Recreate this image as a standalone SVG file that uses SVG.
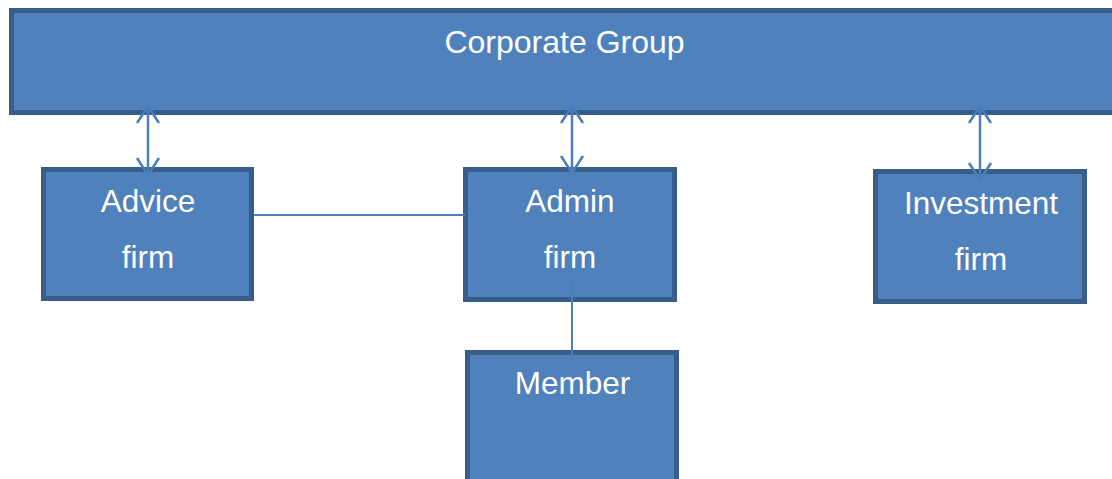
<svg xmlns="http://www.w3.org/2000/svg" width="1112" height="479" viewBox="0 0 1112 479">
  <style>
    .box { fill: #4F81BD; stroke: #385D8A; stroke-width: 5; }
    .label { fill: #FFFFFF; font-family: "Liberation Sans", Arial, sans-serif; font-size: 31.5px; text-anchor: middle; }
    .title { font-size: 32px; }
    .link { stroke: #4A7EBB; stroke-width: 2; fill: none; }
    .arrow { stroke: #4A7EBB; stroke-width: 2.5; fill: none; marker-start: url(#open); marker-end: url(#open); }
  </style>
  <defs>
    <marker id="open" markerUnits="userSpaceOnUse" markerWidth="24" markerHeight="26" viewBox="0 0 24 26" refX="19" refY="13" orient="auto-start-reverse" overflow="visible">
      <path d="M2,2 L19,13 L2,24" fill="none" stroke="#4A7EBB" stroke-width="2.5"/>
    </marker>
  </defs>

  <rect width="1112" height="479" fill="#FFFFFF"/>

  <g id="corporate-group">
    <rect class="box" x="11.5" y="10.5" width="1120" height="102"/>
    <text class="label title" x="564.5" y="53">Corporate Group</text>
  </g>

  <g id="advice-firm">
    <rect class="box" x="43.5" y="169.5" width="208" height="129"/>
    <text class="label" x="148" y="212">Advice</text>
    <text class="label" x="148" y="268">firm</text>
  </g>

  <g id="admin-firm">
    <rect class="box" x="465.5" y="169.5" width="209" height="130"/>
    <text class="label" x="570" y="212">Admin</text>
    <text class="label" x="570" y="268">firm</text>
  </g>

  <g id="investment-firm">
    <rect class="box" x="875.5" y="171.5" width="209" height="130"/>
    <text class="label" x="981" y="214">Investment</text>
    <text class="label" x="981" y="270">firm</text>
  </g>

  <g id="member">
    <rect class="box" x="467.5" y="352.5" width="209" height="200"/>
    <text class="label" x="572.5" y="394">Member</text>
  </g>

  <g id="connectors">
    <line class="arrow" x1="148" y1="106" x2="148" y2="175"/>
    <line class="arrow" x1="572" y1="106" x2="572" y2="173"/>
    <line class="arrow" x1="980" y1="106" x2="980" y2="180"/>
    <line class="link" x1="254" y1="215" x2="465" y2="215"/>
    <line class="link" x1="572" y1="277" x2="572" y2="363"/>
  </g>
</svg>
